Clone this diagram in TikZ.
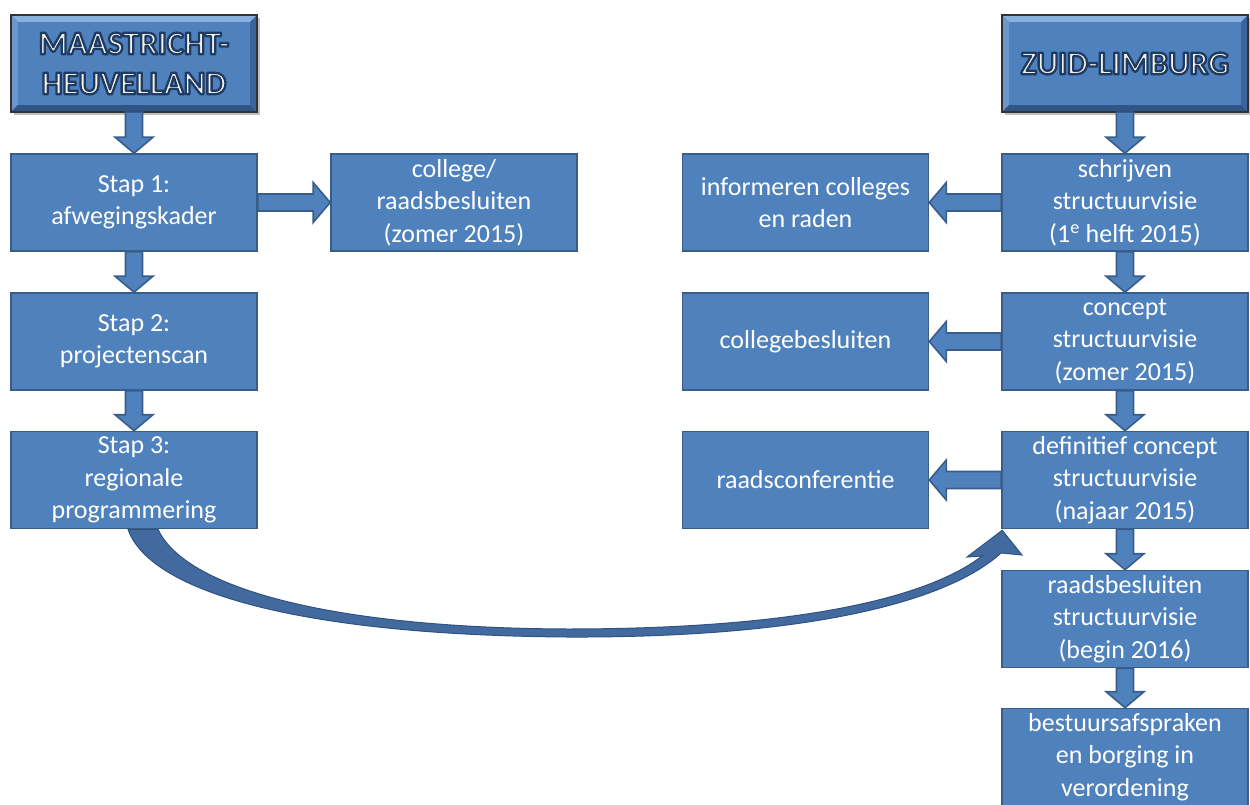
\documentclass[tikz,border=0pt]{standalone}
\usepackage{fontspec}
\setmainfont{Carlito}
\usetikzlibrary{calc,shadows}
\definecolor{boxblue}{HTML}{4F81BD}
\definecolor{boxline}{HTML}{385D8A}
\definecolor{glowblue}{HTML}{1F3B63}
\definecolor{hdrtext}{HTML}{F3F1E6}
\definecolor{bevlight}{HTML}{8AB0DE}
\definecolor{bevmid}{HTML}{6C97CC}
\definecolor{bevdark}{HTML}{2F5486}
\definecolor{bevright}{HTML}{3B649C}
\definecolor{curvefill}{HTML}{436A9F}
\definecolor{curveline}{HTML}{2E5282}

% header text: cream fill with a navy outline (text render mode 2)
\newcommand{\glowtext}[1]{\special{pdf:literal direct 2 Tr 1 j 2.3 w 0.122 0.231 0.388 RG}#1\special{pdf:literal direct 0 Tr}}

\newcommand{\blockdown}[2]{%
  \path[barrow] let \p1=(#1.south), \p2=(#2.north) in
    (\x1-8.5pt,\y1) -- (\x1+8.5pt,\y1) -- (\x1+8.5pt,\y2+16pt) -- (\x1+19pt,\y2+16pt)
    -- (\x1,\y2) -- (\x1-19pt,\y2+16pt) -- (\x1-8.5pt,\y2+16pt) -- cycle;}
\newcommand{\blockright}[2]{%
  \path[barrow] let \p1=(#1.east), \p2=(#2.west) in
    (\x1,\y1+8.5pt) -- (\x1,\y1-8.5pt) -- (\x2-17pt,\y1-8.5pt) -- (\x2-17pt,\y1-20pt)
    -- (\x2,\y1) -- (\x2-17pt,\y1+20pt) -- (\x2-17pt,\y1+8.5pt) -- cycle;}
\newcommand{\blockleft}[2]{%
  \path[barrow] let \p1=(#1.west), \p2=(#2.east) in
    (\x1,\y1+8.5pt) -- (\x1,\y1-8.5pt) -- (\x2+17pt,\y1-8.5pt) -- (\x2+17pt,\y1-20pt)
    -- (\x2,\y1) -- (\x2+17pt,\y1+20pt) -- (\x2+17pt,\y1+8.5pt) -- cycle;}
\newcommand{\bevel}[1]{%
  \fill[bevlight] (#1.north west) -- (#1.north east) -- ($(#1.north east)+(-7,7)$) -- ($(#1.north west)+(7,7)$) -- cycle;
  \fill[bevmid] (#1.north west) -- ($(#1.north west)+(7,7)$) -- ($(#1.south west)+(7,-7)$) -- (#1.south west) -- cycle;
  \fill[bevdark] (#1.south west) -- ($(#1.south west)+(7,-7)$) -- ($(#1.south east)+(-7,-7)$) -- (#1.south east) -- cycle;
  \fill[bevright] (#1.north east) -- (#1.south east) -- ($(#1.south east)+(-7,-7)$) -- ($(#1.north east)+(-7,7)$) -- cycle;
  \draw[black!80, line width=1.6pt] (#1.north west) rectangle (#1.south east);}

\begin{document}
\begin{tikzpicture}[x=1pt,y=-1pt,
  box/.style={draw=boxline, line width=1.6pt, fill=boxblue, text=white,
    minimum width=246pt, minimum height=97pt, inner sep=0pt, align=center,
    font=\fontsize{26}{32.5}\selectfont},
  hdr/.style={fill=boxblue, minimum width=246pt, minimum height=97pt,
    inner sep=0pt, drop shadow={shadow xshift=3pt, shadow yshift=-3pt, opacity=0.5}},
  hdrlabel/.style={text=hdrtext, align=center, inner sep=0pt,
    font=\fontsize{33}{40}\selectfont\bfseries},
  barrow/.style={fill=boxblue, draw=boxline, line width=1.6pt, line join=miter},
  curvearrow/.style={fill=curvefill, draw=curveline, line width=1pt}]
\useasboundingbox (0,0) rectangle (1250,805);

% headers
\node[hdr] (mh) at (134,63.5) {};
\bevel{mh}
\node[hdrlabel] (mhtext) at (mh.center)
  {\glowtext{MAASTRICHT-}\\\glowtext{HEUVELLAND}};
\node[hdr] (zl) at (1125,63.5) {};
\bevel{zl}
\node[hdrlabel] (zltext) at (zl.center) {\glowtext{ZUID-LIMBURG}};

% left column
\node[box] (s1) at (134,202.5) {Stap 1:\\afwegingskader};
\node[box] (s2) at (134,341.5) {Stap 2:\\projectenscan};
\node[box] (s3) at (134,480) {Stap 3:\\regionale\\programmering};
\node[box] (cr) at (454,202.5) {college/\\raadsbesluiten\\(zomer 2015)};

% middle right column
\node[box] (inf) at (805.5,202.5) {informeren colleges\\en raden};
\node[box] (cb) at (805.5,341.5) {collegebesluiten};
\node[box] (rc) at (805.5,480) {raadsconferentie};

% right column
\node[box] (sv) at (1125,202.5) {schrijven\\structuurvisie\\(1\textsuperscript{e} helft 2015)};
\node[box] (cs) at (1125,341.5) {concept\\structuurvisie\\(zomer 2015)};
\node[box] (dc) at (1125,480) {definitief concept\\structuurvisie\\(najaar 2015)};
\node[box] (rb) at (1125,619) {raadsbesluiten\\structuurvisie\\(begin 2016)};
\node[box] (ba) at (1125,757) {bestuursafspraken\\en borging in\\verordening};

% block arrows
\blockdown{mh}{s1}
\blockdown{s1}{s2}
\blockdown{s2}{s3}
\blockright{s1}{cr}
\blockdown{zl}{sv}
\blockdown{sv}{cs}
\blockdown{cs}{dc}
\blockdown{dc}{rb}
\blockdown{rb}{ba}
\blockleft{sv}{inf}
\blockleft{cs}{cb}
\blockleft{dc}{rc}

% curved arrow from Stap 3 to definitief concept
\coordinate (cstart) at (s3.south);
\coordinate (ctip) at (dc.south west);
\path[curvearrow]
  ($(cstart)+(-6,0)$) .. controls (150,592) and (300,635) .. (567,637)
  .. controls (800,638) and (945,604) .. (1001,553)
  -- (1022,555) -- ($(ctip)+(1,1)$) -- (967,557) -- (982,556)
  .. controls (925,600) and (790,629) .. (567,629)
  .. controls (330,628) and (185,588) .. ($(cstart)+(24,0)$) -- cycle;
\end{tikzpicture}
\end{document}
